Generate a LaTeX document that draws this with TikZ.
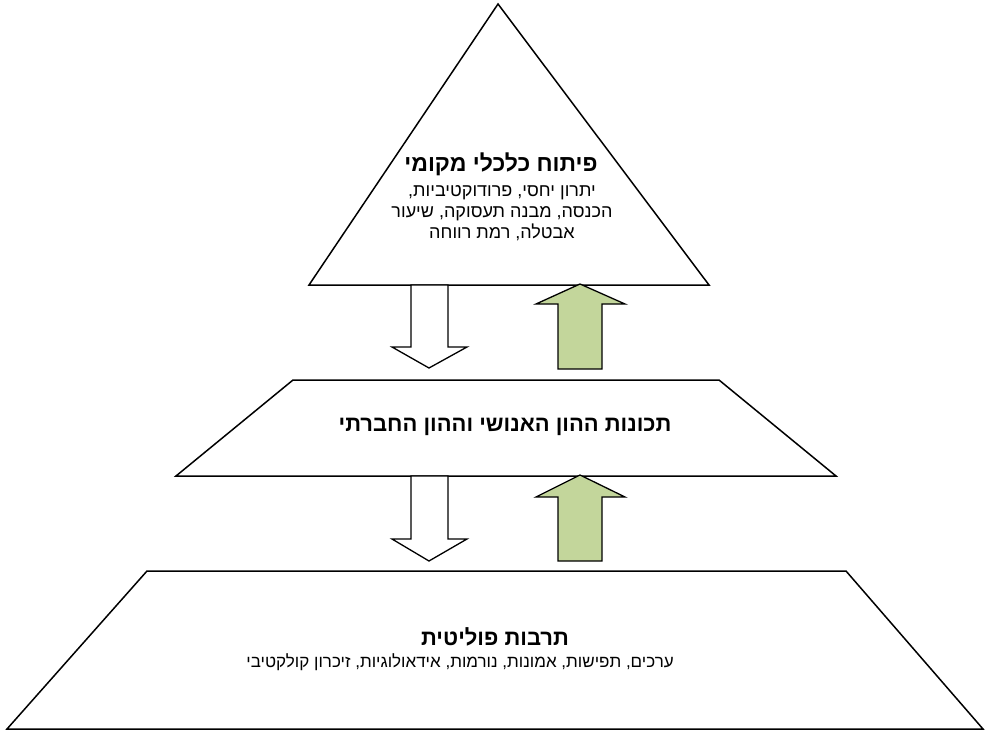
\documentclass[tikz,border=0pt]{standalone}
\usepackage{fontspec}
\TeXXeTstate=1
\newfontfamily\heb[Script=Hebrew]{Liberation Sans}
\definecolor{arrowgreen}{RGB}{195,214,155}
\tikzset{
  layer/.style={draw=black,line width=1.5pt,fill=white,line join=miter},
  downarrow/.style={draw=black,line width=1.3pt,fill=white,line join=miter},
  uparrow/.style={draw=black,line width=1.3pt,fill=arrowgreen,line join=miter},
  titletext/.style={font=\heb\bfseries\fontsize{22}{24}\selectfont,inner sep=0pt,align=center},
  bodytext/.style={font=\heb\fontsize{18}{21}\selectfont,inner sep=0pt,align=center}
}
\begin{document}
\begin{tikzpicture}[x=1pt,y=-1pt]
\useasboundingbox (0,0) rectangle (985,731);
% layers
\draw[layer] (498,4) -- (709,285) -- (309,285) -- cycle;
\draw[layer] (293,380) -- (719,380) -- (836,476) -- (176,476) -- cycle;
\draw[layer] (147,571) -- (846,571) -- (983,729) -- (7,729) -- cycle;
% arrows between top and middle
\draw[downarrow] (411,285) -- (448,285) -- (448,347) -- (467,347) -- (429,368) -- (392,347) -- (411,347) -- cycle;
\draw[uparrow] (580,284) -- (625,304) -- (602,304) -- (602,369) -- (558,369) -- (558,304) -- (536,304) -- cycle;
% arrows between middle and bottom
\draw[downarrow] (411,476) -- (448,476) -- (448,539) -- (467,539) -- (429,561) -- (392,539) -- (411,539) -- cycle;
\draw[uparrow] (580,475) -- (625,497) -- (602,497) -- (602,561) -- (558,561) -- (558,497) -- (536,497) -- cycle;
% texts
\node[titletext,font=\heb\bfseries\fontsize{23}{25}\selectfont] (toptitle) at (501,164) {\beginR פיתוח כלכלי מקומי\endR};
\node[bodytext] (topbody) at (502,213) {\beginR יתרון יחסי, פרודוקטיביות,\endR\\\beginR הכנסה, מבנה תעסוקה, שיעור\endR\\\beginR אבטלה, רמת רווחה\endR};
\node[titletext] (midtitle) at (505,427) {\beginR תכונות ההון האנושי וההון החברתי\endR};
\node[titletext] (bottitle) at (495,637) {\beginR תרבות פוליטית\endR};
\node[bodytext,font=\heb\fontsize{17}{20}\selectfont] (botbody) at (460,662) {\beginR ערכים, תפישות, אמונות, נורמות, אידאולוגיות, זיכרון קולקטיבי\endR};
\end{tikzpicture}
\end{document}
